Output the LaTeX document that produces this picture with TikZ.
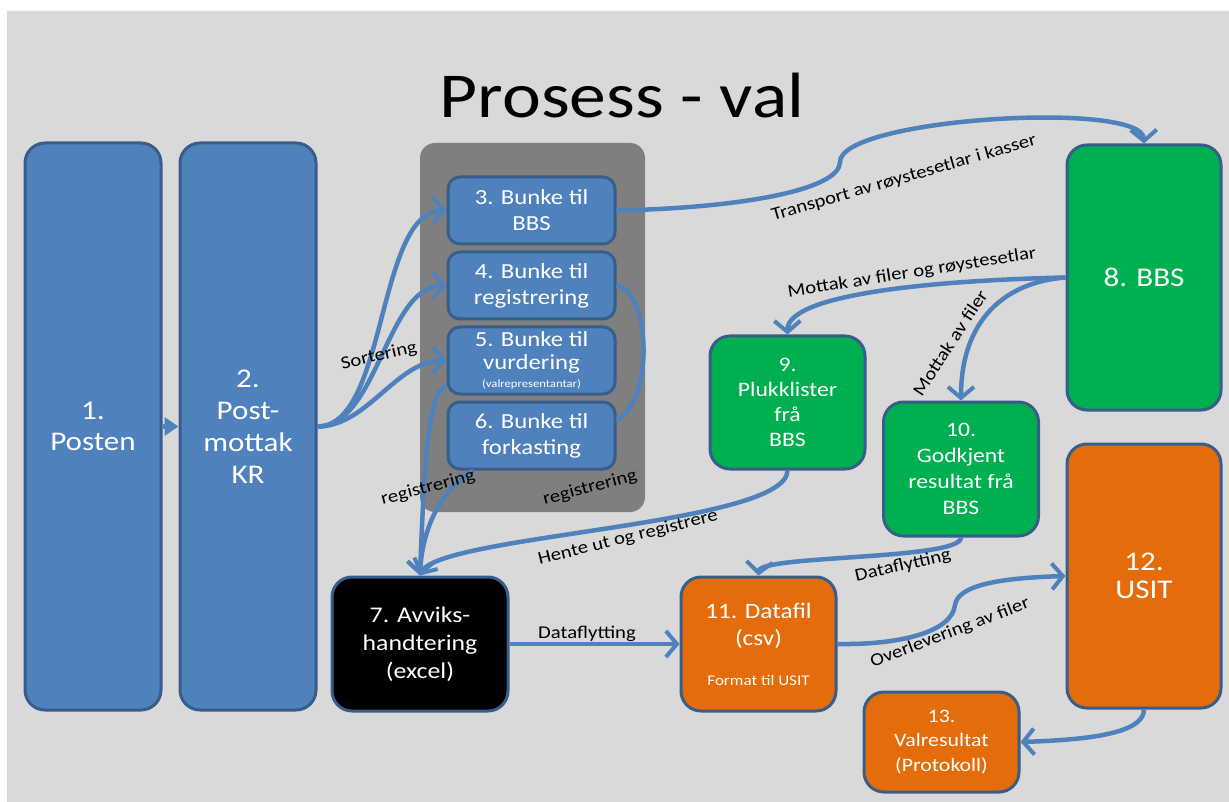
\documentclass[tikz,border=0pt]{standalone}
\usepackage{fontspec}
\setmainfont[FakeStretch=1.15]{Carlito}
\usetikzlibrary{arrows.meta}
\definecolor{bgray}{HTML}{D9D9D9}
\definecolor{stackgray}{HTML}{7F7F7F}
\definecolor{boxblue}{HTML}{4F81BD}
\definecolor{boxline}{HTML}{385D8A}
\definecolor{boxgreen}{HTML}{00B050}
\definecolor{boxorange}{HTML}{E46C0A}
\definecolor{flowblue}{HTML}{4F81BD}
\tikzset{
  box/.style={draw=boxline,line width=3pt,rounded corners=20pt,text=white,align=center,inner sep=0pt},
  bunke/.style={box,fill=boxblue,rounded corners=12pt,minimum width=167pt,minimum height=67pt,font=\fontsize{21.5}{26}\selectfont},
  flowline/.style={draw=flowblue,line width=4.5pt},
  flow/.style={flowline,-{Straight Barb[length=11pt,width=26pt,line width=4pt]}},
  flowlabel/.style={font=\fontsize{18}{20}\selectfont,inner sep=1pt}
}
\begin{document}
\begin{tikzpicture}[x=1pt,y=-1pt,node distance=75pt]
\fill[white] (0,0) rectangle (1229,802);
\fill[bgray] (7,11) rectangle (1229,802);
\useasboundingbox (0,0) rectangle (1229,802);

\node[font=\fontsize{64}{70}\selectfont,inner sep=0pt] (title) at (622,96) {Prosess - val};

\node[box,fill=boxblue,minimum width=136pt,minimum height=567pt,font=\fontsize{27}{31}\selectfont] (b1) at (93,426.5) {1.\\Posten};
\node[box,fill=boxblue,minimum width=136pt,minimum height=567pt,font=\fontsize{27}{32}\selectfont] (b2) [right of=b1,node distance=155pt] {2.\\Post-\\mottak\\KR};

\node[fill=stackgray,rounded corners=15pt,minimum width=225pt,minimum height=369pt] (stack) at (532.5,327.5) {};
\node[bunke] (b3) at (531.5,210.5) {3. Bunke til\\BBS};
\node[bunke] (b4) [below of=b3] {4. Bunke til\\registrering};
\node[bunke,font=\fontsize{21.5}{23}\selectfont] (b5) [below of=b4] {5. Bunke til\\vurdering\\[-5pt]{\fontsize{11}{11}\selectfont(valrepresentantar)}};
\node[bunke] (b6) [below of=b5] {6. Bunke til\\forkasting};

\node[box,fill=black,minimum width=176pt,minimum height=134pt,font=\fontsize{22.4}{28}\selectfont] (b7) at (420,644) {7. Avviks-\\handtering\\(excel)};
\node[box,fill=boxgreen,minimum width=154pt,minimum height=265pt,font=\fontsize{27}{31}\selectfont] (b8) at (1144,277.5) {8. BBS};
\node[box,fill=boxgreen,minimum width=155pt,minimum height=133pt,font=\fontsize{20.6}{25}\selectfont] (b9) at (787.5,402.5) {9.\\Plukklister\\frå\\BBS};
\node[box,fill=boxgreen,minimum width=155pt,minimum height=134pt,font=\fontsize{20.6}{26}\selectfont] (b10) at (961,469) {10.\\Godkjent\\resultat frå\\BBS};
\node[box,fill=boxorange,minimum width=155pt,minimum height=134pt,font=\fontsize{22}{27}\selectfont] (b11) at (758.5,644) {11. Datafil\\(csv)\\[13pt]{\fontsize{14.8}{17}\selectfont Format til USIT}};
\node[box,fill=boxorange,minimum width=154pt,minimum height=264pt,font=\fontsize{27}{28}\selectfont] (b12) at (1144,576) {12.\\USIT};
\node[box,fill=boxorange,minimum width=155pt,minimum height=100pt,font=\fontsize{19}{24.5}\selectfont] (b13) at (941.5,742) {13.\\Valresultat\\(Protokoll)};

\draw[flowline,-{Triangle[length=14pt,width=18pt]}] (b1) -- (b2);
\draw[flow] (b2.east) .. controls +(70,0) and +(-70,0) .. (b3.west);
\draw[flow] (b2.east) .. controls +(60,0) and +(-60,0) .. (b4.west);
\draw[flow] (b2.east) .. controls +(50,0) and +(-50,0) .. (b5.west);
\draw[flow] (b3.east) .. controls (740,208) and (840,190) .. (840,162) .. controls (840,118) and (1143,100) .. (b8.north);
\draw[flowline] (b4.east) .. controls (650,290) and (655,400) .. (b6.10);
\draw[flow] (b5.197) .. controls (428,388) and (424,470) .. (b7.north);
\draw[flow] (b6.211) .. controls (440,490) and (422,530) .. (b7.north);
\draw[flow] (b8.west) .. controls (950,280) and (787,292) .. (b9.north);
\draw[flow] (b8.west) .. controls (1005,282) and (961,320) .. (b10.north);
\draw[flow] (b9.south) .. controls (787,525) and (440,535) .. (b7.north);
\draw[flow] (b10.south) .. controls (961,560) and (760,555) .. (b11.north);
\draw[flow] (b7.east) -- (b11.west);
\draw[flow] (b11.east) .. controls (900,645) and (952,632) .. (955,605) .. controls (958,585) and (1000,578) .. (b12.west);
\draw[flow] (b12.south) .. controls (1144,735) and (1080,740) .. (b13.east);

\node[flowlabel,rotate=13] (lsort) at (379,356) {Sortering};
\node[flowlabel,rotate=15] (lreg1) at (428,488) {registrering};
\node[flowlabel,rotate=15] (lreg2) at (590,488) {registrering};
\node[flowlabel,rotate=16] (ltrans) at (904,178) {Transport av røystesetlar i kasser};
\node[flowlabel,rotate=9] (lmottak1) at (912,273) {Mottak av filer og røystesetlar};
\node[flowlabel,rotate=57] (lmottak2) at (950,343) {Mottak av filer};
\node[flowlabel,rotate=14] (lhente) at (628,538) {Hente ut og registrere};
\node[flowlabel,rotate=13] (ldata1) at (903,566) {Dataflytting};
\node[flowlabel] (ldata2) at (587,634) {Dataflytting};
\node[flowlabel,rotate=21] (lover) at (950,633) {Overlevering av filer};
\end{tikzpicture}
\end{document}
